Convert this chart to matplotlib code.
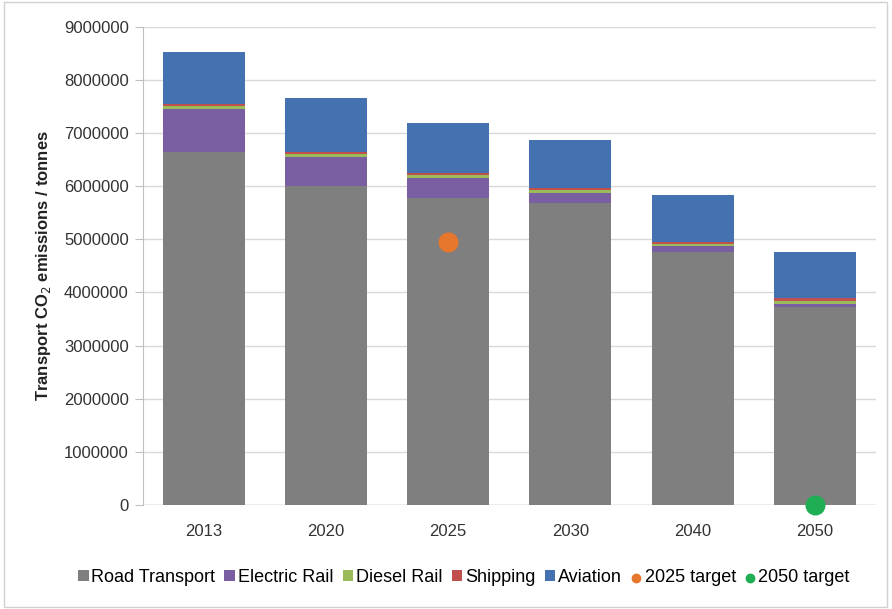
import matplotlib.pyplot as plt
import numpy as np
from matplotlib.patches import Rectangle

plt.rcParams['font.family'] = ['Liberation Sans', 'DejaVu Sans']

years = ["2013", "2020", "2025", "2030", "2040", "2050"]
road_transport = [6650000, 6000000, 5780000, 5690000, 4760000, 3730000]
electric_rail = [800000, 550000, 380000, 190000, 110000, 50000]
diesel_rail = [50000, 50000, 50000, 50000, 40000, 60000]
shipping = [40000, 40000, 40000, 40000, 40000, 60000]
aviation = [990000, 1020000, 940000, 900000, 880000, 860000]
target_2025 = 4950000
target_2050 = 0

series = [
    ("Road Transport", road_transport, "#7f7f7f"),
    ("Electric Rail", electric_rail, "#7a5ea2"),
    ("Diesel Rail", diesel_rail, "#9bbb59"),
    ("Shipping", shipping, "#c0504d"),
    ("Aviation", aviation, "#4472b0"),
]

fig = plt.figure(figsize=(8.92, 6.09), dpi=100)
ax = fig.add_axes([0.160, 0.171, 0.822, 0.785])

x = np.arange(len(years))
bottom = np.zeros(len(years))
handles = []
for name, vals, col in series:
    h = ax.bar(x, vals, 0.67, bottom=bottom, color=col, label=name, zorder=2)
    handles.append(h)
    bottom += np.array(vals)

# targets drawn as dots on top of the bars
h25 = ax.scatter([years.index("2025")], [target_2025], s=180, color="#e8772e",
                 label="2025 target", zorder=3)
h50 = ax.scatter([years.index("2050")], [target_2050], s=180, color="#1fae53",
                 label="2050 target", zorder=3, clip_on=False)
handles += [h25, h50]

ax.set_xlim(-0.5, len(years) - 0.5)
ax.set_ylim(0, 9000000)
ax.set_yticks(np.arange(0, 9000001, 1000000))
ax.set_yticklabels([f"{v:d}" for v in range(0, 9000001, 1000000)])
ax.set_xticks(x, labels=years)
ax.yaxis.grid(True, color="#d9d9d9", linewidth=1, zorder=0)
ax.set_axisbelow(True)
for side in ["top", "right", "bottom"]:
    ax.spines[side].set_visible(False)
ax.spines["left"].set_color("#bfbfbf")
ax.tick_params(axis="y", length=6, color="#bfbfbf", labelsize=12, labelcolor="#333333", pad=4)
ax.tick_params(axis="x", length=0, labelsize=12, labelcolor="#333333", pad=14)
ax.axhline(0, color="#bfbfbf", linewidth=1, zorder=1)

ax.set_ylabel("Transport CO$_2$ emissions / tonnes", fontsize=12, fontweight="bold",
              labelpad=8, color="#222222")

fig.legend(handles, [h.get_label() for h in handles], loc="center",
           bbox_to_anchor=(0.52, 0.052), ncol=7,
           frameon=False, fontsize=13, handlelength=0.6, handleheight=0.6,
           handletextpad=0.15, columnspacing=0.5, markerscale=0.45)

fig.add_artist(Rectangle((0.004, 0.004), 0.99, 0.992, transform=fig.transFigure,
                         fill=False, edgecolor="#d0d0d0", linewidth=1))

fig.savefig("out.png", dpi=100)
